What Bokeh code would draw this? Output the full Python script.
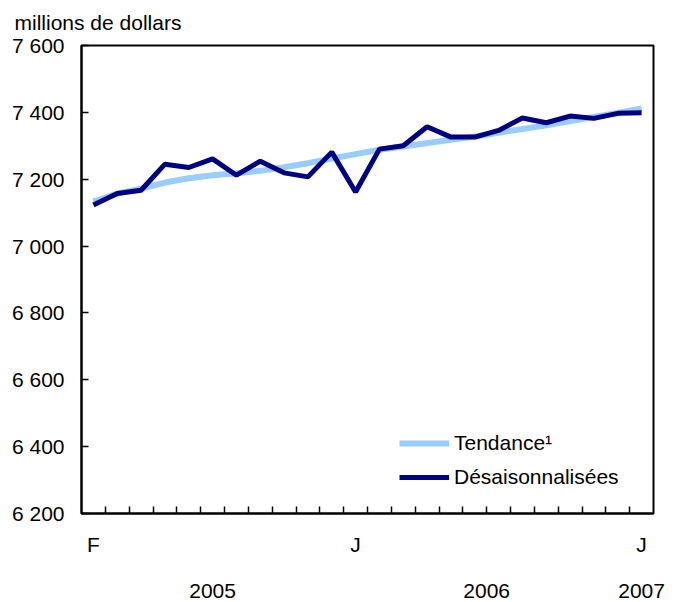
from bokeh.plotting import figure
from bokeh.models import Range1d, FixedTicker, LinearAxis, Legend, LegendItem, ColumnDataSource
from bokeh.embed import file_html
from bokeh.resources import INLINE

# Months Feb 2005 .. Jan 2007
months = ["F", "M", "A", "M", "J", "J", "A", "S", "O", "N", "D", "J",
          "F", "M", "A", "M", "J", "J", "A", "S", "O", "N", "D", "J"]
desaisonnalisees = [7123, 7157, 7167, 7245, 7235, 7261, 7212, 7254, 7219, 7207, 7281, 7162,
                    7290, 7300, 7357, 7326, 7326, 7346, 7383, 7369, 7389, 7382, 7397, 7399]
tendance = [7133, 7157, 7172, 7190, 7203, 7212, 7218, 7225, 7236, 7248, 7262, 7275,
            7288, 7298, 7308, 7318, 7328, 7339, 7350, 7361, 7374, 7386, 7398, 7412]
y_ticks = [6200, 6400, 6600, 6800, 7000, 7200, 7400, 7600]
y_tick_labels = ["6 200", "6 400", "6 600", "6 800", "7 000", "7 200", "7 400", "7 600"]
month_label_idx = [0, 11, 23]
year_labels = ["2005", "2006", "2007"]
year_label_pos = [5, 16.5, 23]
unit_label = "millions de dollars"

FONT = "Liberation Sans"
FS = "21px"

x = list(range(len(months)))
src = ColumnDataSource(dict(x=x, d=desaisonnalisees, t=tendance))

p = figure(width=673, height=600, output_backend="svg", toolbar_location=None,
           x_range=Range1d(-0.5, 23.5), y_range=Range1d(6200, 7600),
           x_axis_type=None, y_axis_type=None,
           min_border_left=81, min_border_right=20, min_border_top=44, min_border_bottom=85)
p.xgrid.visible = False
p.ygrid.visible = False
p.outline_line_color = "black"
p.outline_line_width = 2
p.background_fill_color = "white"
p.border_fill_color = "white"

# Unit label (title) above the y axis
p.title.text = unit_label
p.title.text_font = FONT
p.title.text_font_size = FS
p.title.text_font_style = "normal"
p.title.text_color = "black"
p.title.align = "left"
p.title.vertical_align = "top"
p.title.offset = -67
p.title.standoff = 20

# Y axis
yax = LinearAxis(ticker=FixedTicker(ticks=y_ticks),
                 major_label_overrides={v: s for v, s in zip(y_ticks, y_tick_labels)})
yax.major_tick_in = 7
yax.major_tick_out = 0
yax.major_tick_line_width = 1.5
yax.minor_tick_line_color = None
yax.axis_line_width = 2
yax.major_label_standoff = 17
yax.major_label_text_font = FONT
yax.major_label_text_font_size = FS
yax.major_label_text_color = "black"
p.add_layout(yax, "left")

# X axis: month ticks (boundaries) + month letters
xax = LinearAxis(ticker=FixedTicker(ticks=month_label_idx,
                                    minor_ticks=[i + 0.5 for i in x[:-1]]),
                 major_label_overrides={i: months[i] for i in month_label_idx})
xax.major_tick_in = 0
xax.major_tick_out = 0
xax.minor_tick_in = 7
xax.minor_tick_out = 0
xax.minor_tick_line_width = 1.5
xax.minor_tick_line_color = "black"
xax.axis_line_width = 2
xax.major_label_standoff = 19
xax.major_label_text_font = FONT
xax.major_label_text_font_size = FS
xax.major_label_text_color = "black"
p.add_layout(xax, "below")

# Year axis
yrax = LinearAxis(ticker=FixedTicker(ticks=year_label_pos),
                  major_label_overrides={v: s for v, s in zip(year_label_pos, year_labels)})
yrax.axis_line_color = None
yrax.major_tick_line_color = None
yrax.minor_tick_line_color = None
yrax.major_tick_in = 0
yrax.major_tick_out = 0
yrax.major_label_standoff = 25
yrax.major_label_text_font = FONT
yrax.major_label_text_font_size = FS
yrax.major_label_text_color = "black"
p.add_layout(yrax, "below")

r_t = p.line("x", "t", source=src, line_color="#99ccff", line_width=6)
r_d = p.line("x", "d", source=src, line_color="#000080", line_width=5)

legend = Legend(items=[LegendItem(label="Tendance¹", renderers=[r_t]),
                       LegendItem(label="Désaisonnalisées", renderers=[r_d])],
                location=(318, 24), padding=0, margin=0, spacing=10,
                glyph_width=50, glyph_height=20, label_height=20, label_standoff=5,
                label_text_font=FONT, label_text_font_size=FS, label_text_color="black",
                border_line_alpha=0, background_fill_alpha=0)
p.add_layout(legend, "center")

open("out.html", "w").write(file_html(p, INLINE))
